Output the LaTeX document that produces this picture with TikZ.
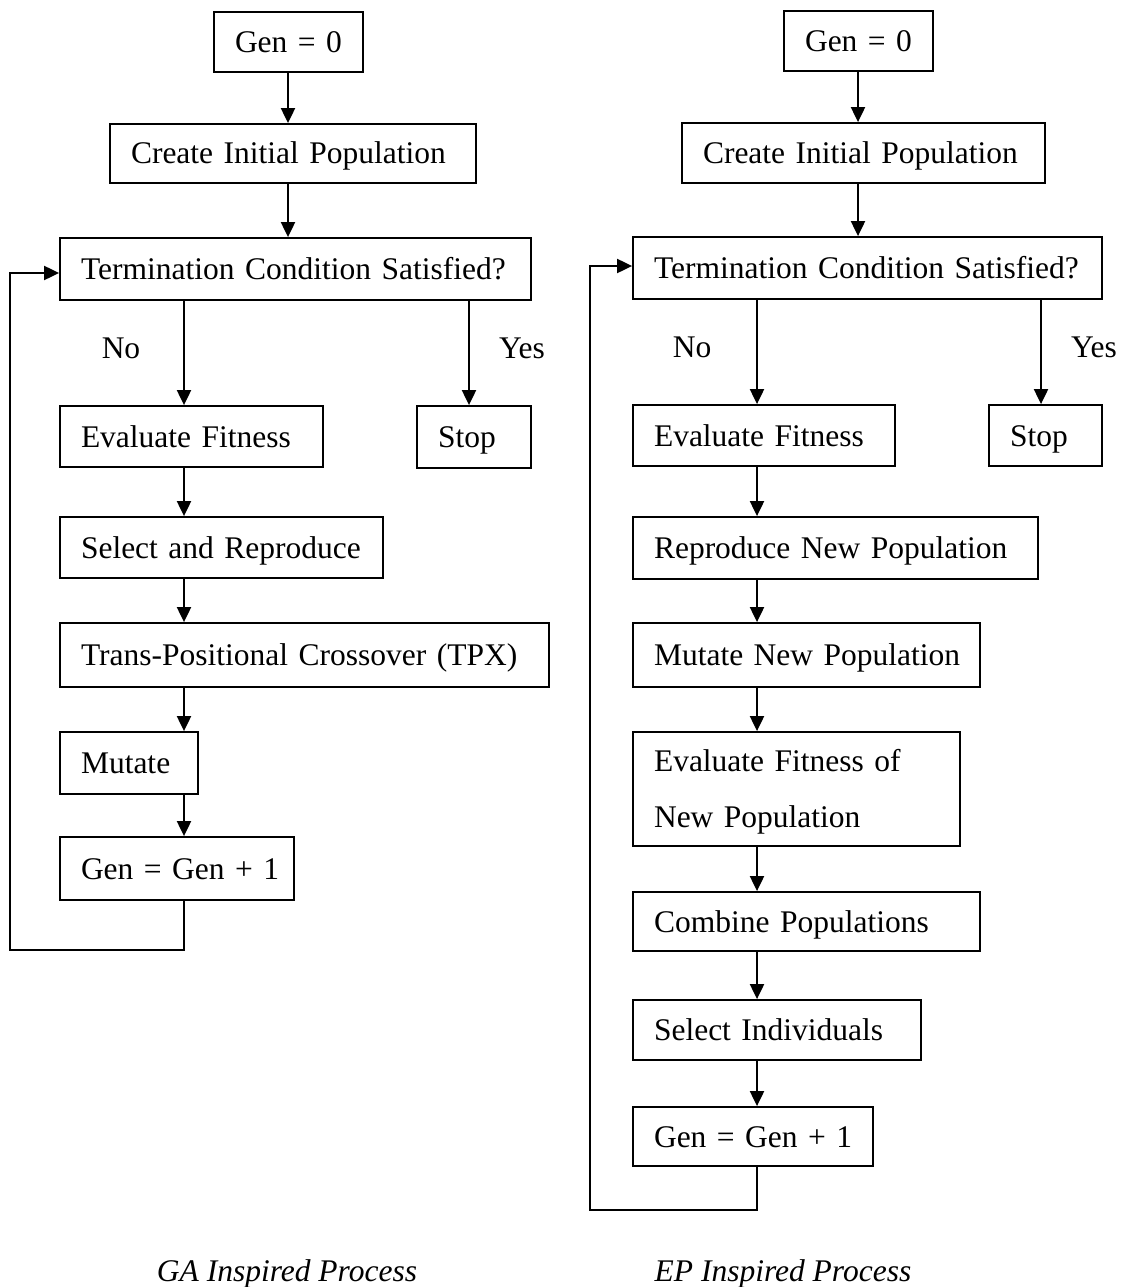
\documentclass[tikz,border=0pt]{standalone}
\usepackage{fontspec}
\setmainfont{Liberation Serif}
\usetikzlibrary{arrows.meta}
\begin{document}
\begin{tikzpicture}[x=1pt,y=-1pt,
  box/.style={draw, line width=1.8pt, rectangle, inner xsep=21pt, inner ysep=0pt,
    align=left, font=\fontsize{31.5}{38}\selectfont, text height=21pt, text depth=0pt},
  arr/.style={line width=2pt, -{Triangle[length=15pt,width=14pt]}},
  lbl/.style={font=\fontsize{31.5}{38}\selectfont, inner sep=0pt, text height=21pt, text depth=0pt},
  captext/.style={font=\fontsize{31.5}{38}\selectfont\itshape, inner sep=0pt, anchor=base}]
\useasboundingbox[fill=white] (0,0) rectangle (1128,1287);

% ---------- left column (GA) ----------
\node[box, text width=107pt, minimum height=60pt] (gen0L) at (288.5,42) {\mbox{Gen = 0}};
\node[box, text width=324pt, minimum height=59pt] (createL) at (293,153.5) {\mbox{Create Initial Population}};
\node[box, text width=429pt, minimum height=62pt] (termL) at (295.5,269) {\mbox{Termination Condition Satisfied?}};
\node[box, text width=221pt, minimum height=61pt] (evalL) at (191.5,436.5) {\mbox{Evaluate Fitness}};
\node[box, text width=72pt, minimum height=62pt] (stopL) at (474,437) {\mbox{Stop}};
\node[box, text width=281pt, minimum height=61pt] (selL) at (221.5,547.5) {\mbox{Select and Reproduce}};
\node[box, text width=447pt, minimum height=64pt] (tpxL) at (304.5,655) {\mbox{Trans-Positional Crossover (TPX)}};
\node[box, text width=96pt, minimum height=62pt] (mutL) at (129,763) {\mbox{Mutate}};
\node[box, text width=192pt, minimum height=63pt] (genL) at (177,868.5) {\mbox{Gen = Gen + 1}};

\node[lbl] (noL) at (121,348) {No};
\node[lbl] (yesL) at (522,348) {Yes};

\coordinate (topL) at (288,0);
\coordinate (colL) at (184,0);
\coordinate (yesxL) at (469,0);
\coordinate (loopL1) at (184,950);
\coordinate (loopL2) at (10,950);
\coordinate (loopL3) at (10,273);

\draw[arr] (gen0L.south -| topL) -- (createL.north -| topL);
\draw[arr] (createL.south -| topL) -- (termL.north -| topL);
\draw[arr] (termL.south -| colL) -- (evalL.north -| colL);
\draw[arr] (termL.south -| yesxL) -- (stopL.north -| yesxL);
\draw[arr] (evalL.south -| colL) -- (selL.north -| colL);
\draw[arr] (selL.south -| colL) -- (tpxL.north -| colL);
\draw[arr] (tpxL.south -| colL) -- (mutL.north -| colL);
\draw[arr] (mutL.south -| colL) -- (genL.north -| colL);
\draw[arr] (genL.south -| colL) -- (loopL1) -- (loopL2) -- (loopL3) -- (loopL3 -| termL.west);

\node[captext] (capL) at (287,1281) {GA Inspired Process};

% ---------- right column (EP) ----------
\node[box, text width=107pt, minimum height=60pt] (gen0R) at (858.5,41) {\mbox{Gen = 0}};
\node[box, text width=321pt, minimum height=60pt] (createR) at (863.5,153) {\mbox{Create Initial Population}};
\node[box, text width=427pt, minimum height=62pt] (termR) at (867.5,268) {\mbox{Termination Condition Satisfied?}};
\node[box, text width=220pt, minimum height=61pt] (evalR) at (764,435.5) {\mbox{Evaluate Fitness}};
\node[box, text width=71pt, minimum height=61pt] (stopR) at (1045.5,435.5) {\mbox{Stop}};
\node[box, text width=363pt, minimum height=62pt] (reproR) at (835.5,548) {\mbox{Reproduce New Population}};
\node[box, text width=305pt, minimum height=64pt] (mutR) at (806.5,655) {\mbox{Mutate New Population}};
\node[box, text width=285pt, minimum height=114pt, font=\fontsize{31.5}{56}\selectfont,
  text height=21pt, text depth=56pt] (evalR2) at (796.5,789) {\mbox{Evaluate Fitness of}\\\mbox{New Population}};
\node[box, text width=305pt, minimum height=59pt] (combR) at (806.5,921.5) {\mbox{Combine Populations}};
\node[box, text width=246pt, minimum height=60pt] (selR) at (777,1030) {\mbox{Select Individuals}};
\node[box, text width=198pt, minimum height=59pt] (genR) at (753,1136.5) {\mbox{Gen = Gen + 1}};

\node[lbl] (noR) at (692,347) {No};
\node[lbl] (yesR) at (1094,347) {Yes};

\coordinate (topR) at (858,0);
\coordinate (colR) at (757,0);
\coordinate (yesxR) at (1041,0);
\coordinate (loopR1) at (757,1210);
\coordinate (loopR2) at (590,1210);
\coordinate (loopR3) at (590,266);

\draw[arr] (gen0R.south -| topR) -- (createR.north -| topR);
\draw[arr] (createR.south -| topR) -- (termR.north -| topR);
\draw[arr] (termR.south -| colR) -- (evalR.north -| colR);
\draw[arr] (termR.south -| yesxR) -- (stopR.north -| yesxR);
\draw[arr] (evalR.south -| colR) -- (reproR.north -| colR);
\draw[arr] (reproR.south -| colR) -- (mutR.north -| colR);
\draw[arr] (mutR.south -| colR) -- (evalR2.north -| colR);
\draw[arr] (evalR2.south -| colR) -- (combR.north -| colR);
\draw[arr] (combR.south -| colR) -- (selR.north -| colR);
\draw[arr] (selR.south -| colR) -- (genR.north -| colR);
\draw[arr] (genR.south -| colR) -- (loopR1) -- (loopR2) -- (loopR3) -- (loopR3 -| termR.west);

\node[captext] (capR) at (783,1281) {EP Inspired Process};
\end{tikzpicture}
\end{document}
